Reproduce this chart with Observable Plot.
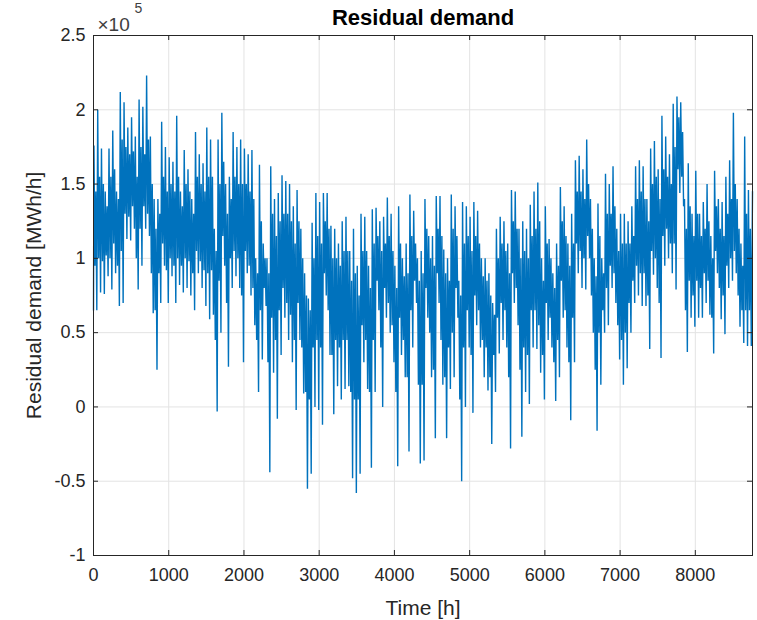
<!DOCTYPE html>
<html>
<head>
<meta charset="utf-8">
<script src="https://cdn.jsdelivr.net/npm/d3@7"></script>
<script src="https://cdn.jsdelivr.net/npm/@observablehq/plot@0.6"></script>
<style>
  html, body { margin: 0; padding: 0; background: #fff; }
  #chart { width: 757px; height: 620px; }
</style>
</head>
<body>
<div id="chart"></div>
<script>
// Residual demand, in units of 10^5 MWh/h.
// Each 50-hour block of the year: its peak (hiVals), trough (loVals),
// and the upper / lower edge of the dense daily band (bandHiVals / bandLoVals).
const blockHours = 50;
const hiVals = [
  1.76, 2.00, 1.74, 1.45, 1.74, 1.86, 1.45, 2.12, 2.05, 1.88, 1.95, 1.82, 2.07, 2.02, 2.23, 1.82, 1.40, 1.40, 1.92, 1.75, 1.68, 1.65, 1.96, 1.45, 1.73, 1.60, 1.40, 1.85, 1.70, 1.64,
  1.88, 1.80, 1.20, 1.80, 1.98, 1.50, 1.55, 1.85, 1.75, 1.80, 1.74, 1.70, 1.73, 1.00, 1.63, 1.10, 1.00, 1.62, 1.40, 1.44, 1.56, 1.52, 1.50, 1.35, 1.46, 1.20, 0.90, 0.73, 1.24,
  1.44, 1.38, 1.44, 1.44, 1.22, 1.20, 1.10, 1.25, 1.28, 1.05, 1.20, 0.95, 1.30, 1.28, 0.95, 1.33, 1.34, 1.25, 1.28, 1.41, 1.30, 0.95, 1.35, 1.00, 1.10, 1.43, 1.32, 1.00,
  1.05, 1.40, 1.15, 1.15, 1.42, 1.42, 1.06, 1.00, 1.43, 1.35, 0.85, 1.38, 1.35, 1.28, 1.38, 1.32, 1.00, 1.00, 0.90, 0.70, 1.20, 1.28, 1.25, 1.10, 1.46, 1.45, 1.20, 1.25, 1.20, 1.36,
  1.45, 1.51, 1.00, 1.35, 1.13, 0.90, 1.10, 1.48, 1.35, 1.10, 1.30, 1.66, 1.69, 1.60, 1.80, 1.40, 1.00, 1.37, 1.00, 1.57, 1.50, 1.62, 1.20, 1.30, 1.30, 1.25, 1.35, 1.62, 1.66,
  1.62, 1.40, 1.74, 1.79, 1.60, 1.96, 1.82, 1.70, 2.04, 2.09, 2.05, 1.40, 1.64, 1.30, 1.59, 1.30, 1.38, 1.50, 1.15, 1.59, 1.40, 1.38, 1.55, 1.66, 1.98, 1.40, 1.10, 1.82, 1.46
];
const loVals = [
  0.65, 0.77, 0.76, 0.88, 0.79, 0.90, 0.68, 0.70, 1.13, 1.12, 1.20, 0.79, 0.95, 1.20, 1.15, 0.63, 0.25, 0.70, 0.95, 0.70, 0.88, 0.70, 0.82, 0.77, 0.80, 0.75, 0.65, 0.90, 0.80, 0.68,
  0.59, 0.62, -0.03, 0.50, 0.95, 0.27, 0.80, 0.88, 0.80, 0.30, 0.90, 0.75, 0.55, 0.10, 0.32, 0.68, -0.44, 0.23, -0.08, 0.35, 0.60, 0.45, 0.30, -0.02, 0.45, 0.09, -0.55, -0.45, 0.00,
  -0.02, -0.12, 0.75, 0.35, -0.05, 0.14, 0.05, 0.12, 0.14, -0.48, -0.58, -0.45, 0.30, 0.12, -0.41, 0.10, 0.65, 0.00, 0.60, 0.50, 0.30, -0.40, 0.35, 0.20, -0.30, 0.40, 0.70, -0.38,
  -0.36, 0.60, 0.20, -0.21, 0.70, 0.15, -0.21, 0.12, 0.20, 0.60, -0.50, 0.00, 0.40, -0.04, 0.55, 0.40, 0.20, 0.11, -0.25, 0.10, 0.36, 0.45, 0.40, -0.28, 0.70, 0.55, -0.20, 0.10, 0.02, 0.40,
  0.39, 0.23, 0.05, 0.45, 0.40, 0.04, 0.20, 0.60, 0.40, -0.09, 0.30, 0.90, 0.80, 0.79, 1.00, 0.50, -0.16, 0.15, 0.50, 0.55, 0.80, 0.70, 0.32, 0.15, 0.26, 0.50, 0.70, 0.75, 0.68,
  0.68, 0.39, 0.89, 0.80, 0.33, 0.95, 1.00, 0.90, 0.79, 1.44, 1.35, 0.37, 0.60, 0.54, 0.60, 0.60, 0.70, 0.62, 0.36, 0.90, 0.59, 0.49, 0.80, 0.85, 0.90, 0.54, 0.43, 0.41, 0.41
];
const bandHiVals = [
  1.45, 1.55, 1.50, 1.35, 1.55, 1.60, 1.40, 1.80, 1.75, 1.70, 1.72, 1.55, 1.75, 1.70, 1.80, 1.50, 1.20, 1.30, 1.55, 1.45, 1.50, 1.45, 1.55, 1.35, 1.50, 1.45, 1.30, 1.55, 1.50, 1.45,
  1.55, 1.55, 1.05, 1.50, 1.65, 1.30, 1.40, 1.55, 1.50, 1.50, 1.50, 1.45, 1.40, 0.90, 1.25, 1.00, 0.90, 1.30, 1.15, 1.25, 1.30, 1.30, 1.25, 1.10, 1.25, 1.00, 0.75, 0.65, 1.00,
  1.15, 1.10, 1.25, 1.20, 1.00, 1.00, 0.95, 1.05, 1.05, 0.85, 0.90, 0.75, 1.05, 1.05, 0.80, 1.10, 1.15, 1.05, 1.10, 1.15, 1.05, 0.80, 1.10, 0.88, 0.90, 1.15, 1.10, 0.85,
  0.90, 1.20, 1.00, 0.95, 1.20, 1.15, 0.90, 0.85, 1.20, 1.15, 0.75, 1.10, 1.15, 1.05, 1.15, 1.10, 0.88, 0.85, 0.75, 0.62, 1.00, 1.10, 1.05, 0.90, 1.25, 1.20, 1.00, 1.05, 1.00, 1.15,
  1.20, 1.25, 0.85, 1.10, 1.00, 0.80, 0.95, 1.25, 1.15, 0.95, 1.10, 1.45, 1.45, 1.40, 1.50, 1.20, 0.88, 1.15, 0.90, 1.30, 1.30, 1.35, 1.05, 1.10, 1.10, 1.10, 1.15, 1.40, 1.45,
  1.40, 1.25, 1.50, 1.55, 1.40, 1.60, 1.55, 1.50, 1.75, 1.95, 1.85, 1.20, 1.35, 1.15, 1.30, 1.15, 1.20, 1.25, 1.00, 1.35, 1.20, 1.15, 1.30, 1.40, 1.50, 1.20, 0.95, 1.30, 1.20
];
const bandLoVals = [
  0.95, 1.00, 0.98, 1.02, 1.00, 1.10, 0.95, 1.05, 1.30, 1.28, 1.35, 1.00, 1.20, 1.35, 1.30, 0.90, 0.65, 0.90, 1.10, 0.92, 1.00, 0.95, 1.00, 0.95, 1.00, 0.98, 0.90, 1.05, 0.98, 0.92,
  0.90, 0.92, 0.45, 0.85, 1.15, 0.70, 1.00, 1.05, 1.00, 0.75, 1.05, 0.95, 0.80, 0.45, 0.65, 0.80, 0.30, 0.60, 0.45, 0.65, 0.80, 0.70, 0.62, 0.45, 0.70, 0.40, 0.10, 0.05, 0.40,
  0.45, 0.40, 0.90, 0.65, 0.35, 0.45, 0.40, 0.45, 0.45, 0.10, 0.05, 0.05, 0.55, 0.45, 0.10, 0.45, 0.85, 0.40, 0.80, 0.70, 0.55, 0.10, 0.60, 0.45, 0.20, 0.65, 0.85, 0.15,
  0.15, 0.80, 0.50, 0.25, 0.90, 0.45, 0.20, 0.40, 0.50, 0.80, 0.05, 0.40, 0.65, 0.35, 0.75, 0.65, 0.45, 0.40, 0.20, 0.35, 0.60, 0.70, 0.65, 0.20, 0.90, 0.80, 0.25, 0.40, 0.35, 0.65,
  0.65, 0.55, 0.35, 0.70, 0.60, 0.30, 0.45, 0.85, 0.65, 0.30, 0.60, 1.10, 1.05, 1.00, 1.15, 0.75, 0.25, 0.50, 0.65, 0.80, 0.95, 0.90, 0.55, 0.45, 0.50, 0.70, 0.85, 0.95, 0.90,
  0.90, 0.75, 1.05, 1.00, 0.70, 1.15, 1.20, 1.10, 1.10, 1.60, 1.55, 0.65, 0.85, 0.75, 0.85, 0.80, 0.90, 0.85, 0.60, 1.05, 0.80, 0.75, 0.95, 1.00, 1.05, 0.75, 0.65, 0.65, 0.65
];
const firstVal = 0.65;   // value at hour 0
const lastVal = 1.45;    // value at hour 8760
const hoursInYear = 8760;

const xTicks = [0, 1000, 2000, 3000, 4000, 5000, 6000, 7000, 8000];
const yTicks = [-1, -0.5, 0, 0.5, 1, 1.5, 2, 2.5];

const titleText = "Residual demand";
const xLabel = "Time [h]";
const yLabel = "Residual demand [MWh/h]";
const exponentBase = "×10";
const exponentPower = "5";

// Build the series: within each block peak, band low, band high, trough.
const series = [{t: 0, v: firstVal}];
hiVals.forEach((h, i) => {
  const t0 = i * blockHours;
  series.push({t: t0 + 6, v: h});
  series.push({t: t0 + 19, v: bandLoVals[i]});
  series.push({t: t0 + 31, v: bandHiVals[i]});
  series.push({t: t0 + 44, v: loVals[i]});
});
series.push({t: hoursInYear, v: lastVal});

const W = 757, H = 620, mL = 93, mR = 5, mT = 35, mB = 65;
const innerW = W - mL - mR, innerH = H - mT - mB, tickLen = 5;
const ink = "#262626";
const fontFamily = "'Liberation Sans', Arial, Helvetica, sans-serif";

const chart = Plot.plot({
  width: W, height: H,
  marginLeft: mL, marginRight: mR, marginTop: mT, marginBottom: mB,
  style: {fontFamily, color: ink, background: "#fff", overflow: "visible"},
  x: {domain: [0, hoursInYear]},
  y: {domain: [-1, 2.5]},
  marks: [
    Plot.gridX(xTicks, {stroke: "#e3e3e3", strokeOpacity: 1}),
    Plot.gridY(yTicks, {stroke: "#e3e3e3", strokeOpacity: 1}),
    Plot.lineY(series, {x: "t", y: "v", stroke: "#0072BD", strokeWidth: 1.4, strokeLinejoin: "miter"}),
    Plot.frame({stroke: ink, strokeWidth: 1}),
    // inward ticks on all four sides
    Plot.tickY(yTicks, {y: d => d, stroke: ink, insetRight: innerW - tickLen}),
    Plot.tickY(yTicks, {y: d => d, stroke: ink, insetLeft: innerW - tickLen}),
    Plot.tickX(xTicks, {x: d => d, stroke: ink, insetTop: innerH - tickLen}),
    Plot.tickX(xTicks, {x: d => d, stroke: ink, insetBottom: innerH - tickLen}),
    Plot.axisX({ticks: xTicks, tickSize: 0, tickPadding: 13, tickFormat: d => String(d), fontSize: 18, label: null}),
    Plot.axisY({ticks: yTicks, tickSize: 0, tickPadding: 8, tickFormat: d => String(d), fontSize: 18, label: null}),
    Plot.text([titleText], {text: d => d, frameAnchor: "top", dy: -18, lineAnchor: "middle", textAnchor: "middle", fontSize: 22, fontWeight: "bold", fill: "#000"}),
    Plot.text([xLabel], {text: d => d, frameAnchor: "bottom", dy: 53, lineAnchor: "middle", textAnchor: "middle", fontSize: 21, fill: ink}),
    Plot.text([yLabel], {text: d => d, frameAnchor: "left", dx: -59, rotate: -90, lineAnchor: "middle", textAnchor: "middle", fontSize: 21, fill: ink}),
    Plot.text([exponentBase], {text: d => d, frameAnchor: "top-left", dx: 4, dy: -11, lineAnchor: "middle", textAnchor: "start", fontSize: 19, fill: "#404040"}),
    Plot.text([exponentPower], {text: d => d, frameAnchor: "top-left", dx: 41, dy: -27, lineAnchor: "middle", textAnchor: "start", fontSize: 14, fill: "#404040"})
  ]
});
document.getElementById("chart").appendChild(chart);
</script>
</body>
</html>
